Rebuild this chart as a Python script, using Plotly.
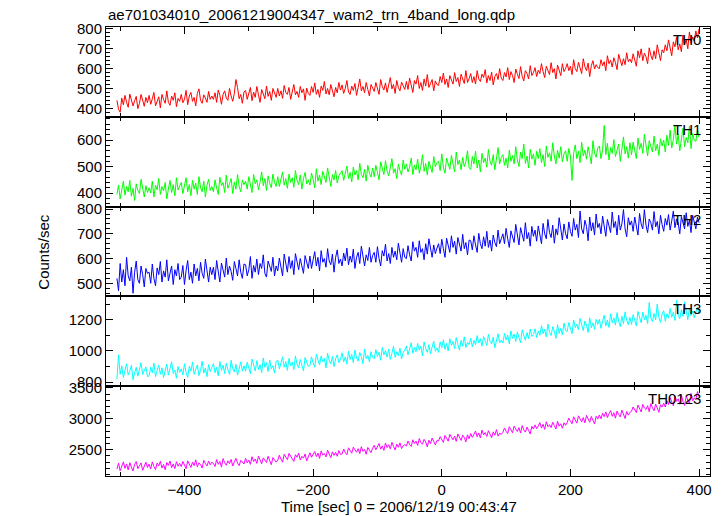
import plotly.graph_objects as go
from plotly.subplots import make_subplots

# time bins (sec), 2.5-s spacing from -505 to 400
time_sec = [-505 + 2.5 * i for i in range(363)]

th0 = [
    440, 395, 380, 452, 418, 465, 430, 405, 472, 445, 412, 438, 460, 398, 425, 470, 435, 410, 455, 428,
    465, 420, 448, 480, 412, 437, 458, 402, 470, 445, 425, 488, 430, 415, 462, 440, 478, 408, 450, 435,
    470, 428, 445, 490, 418, 462, 480, 435, 455, 412, 475, 498, 440, 425, 468, 452, 430, 485, 445, 462,
    445, 478, 430, 492, 465, 420, 470, 488, 452, 440, 500, 462, 435, 475, 545, 505, 448, 470, 425, 482,
    490, 445, 470, 505, 438, 482, 455, 510, 468, 430, 495, 475, 448, 512, 460, 485, 440, 500, 472, 455,
    500, 462, 488, 450, 515, 480, 470, 505, 445, 492, 520, 468, 485, 455, 510, 478, 498, 440, 502, 475,
    465, 510, 480, 528, 470, 495, 455, 512, 490, 535, 472, 500, 468, 520, 485, 458, 505, 478, 530, 492,
    518, 475, 500, 540, 482, 470, 512, 490, 525, 465, 505, 548, 488, 510, 478, 530, 495, 462, 520, 500,
    485, 530, 505, 470, 545, 510, 492, 528, 480, 515, 555, 498, 520, 475, 540, 505, 488, 532, 510, 495,
    535, 495, 552, 515, 480, 540, 522, 565, 500, 530, 490, 548, 512, 570, 505, 525, 545, 488, 538, 520,
    515, 560, 530, 578, 520, 548, 505, 565, 540, 522, 580, 535, 555, 510, 572, 545, 525, 590, 530, 550,
    575, 530, 560, 522, 590, 548, 535, 572, 555, 595, 528, 565, 540, 582, 518, 560, 575, 545, 600, 552,
    540, 580, 558, 605, 545, 585, 565, 530, 598, 572, 550, 610, 562, 538, 590, 575, 548, 615, 565, 580,
    605, 560, 592, 575, 625, 585, 555, 612, 595, 570, 630, 580, 600, 548, 618, 590, 565, 625, 585, 600,
    625, 590, 612, 570, 645, 600, 585, 632, 605, 575, 650, 610, 590, 628, 560, 615, 640, 598, 620, 605,
    600, 645, 615, 635, 590, 665, 625, 642, 608, 655, 630, 595, 672, 640, 615, 650, 620, 680, 635, 648,
    630, 675, 645, 612, 690, 655, 700, 640, 678, 660, 625, 705, 668, 645, 690, 650, 720, 672, 640, 695,
    680, 720, 690, 745, 700, 665, 735, 710, 760, 695, 725, 685, 770, 720, 745, 700, 785, 730, 760, 740,
    790, 755, 800,
]

th1 = [
    395, 430, 378, 415, 445, 392, 425, 405, 448, 388, 418, 372, 435, 410, 398, 452, 420, 385, 428, 402,
    420, 400, 445, 385, 430, 412, 455, 395, 425, 408, 440, 378, 415, 448, 402, 432, 390, 458, 412, 425,
    440, 398, 428, 458, 405, 432, 390, 448, 415, 438, 395, 462, 420, 405, 445, 385, 430, 452, 410, 425,
    405, 450, 420, 395, 460, 428, 440, 402, 468, 418, 435, 455, 398, 442, 415, 470, 425, 405, 450, 432,
    445, 415, 462, 425, 402, 470, 435, 450, 412, 442, 480, 428, 455, 410, 465, 438, 420, 472, 440, 425,
    462, 425, 450, 480, 430, 455, 418, 472, 440, 458, 422, 485, 448, 432, 468, 415, 455, 478, 435, 450,
    430, 475, 452, 420, 492, 445, 468, 432, 482, 455, 440, 495, 462, 425, 470, 450, 485, 438, 465, 478,
    485, 448, 472, 502, 455, 478, 442, 498, 468, 485, 450, 512, 470, 458, 490, 445, 505, 475, 460, 495,
    462, 505, 478, 450, 518, 488, 470, 522, 482, 465, 500, 530, 475, 492, 455, 510, 485, 468, 525, 490,
    510, 480, 498, 532, 470, 505, 488, 528, 475, 500, 545, 482, 512, 468, 520, 495, 478, 538, 500, 515,
    520, 485, 548, 498, 475, 532, 505, 490, 542, 512, 480, 555, 508, 525, 488, 535, 500, 518, 560, 495,
    490, 538, 510, 558, 495, 525, 480, 550, 515, 532, 498, 565, 520, 505, 545, 488, 528, 572, 510, 535,
    545, 505, 532, 495, 562, 520, 542, 510, 575, 525, 500, 555, 530, 585, 512, 540, 495, 565, 528, 548,
    505, 558, 530, 568, 515, 545, 500, 578, 535, 552, 520, 590, 540, 510, 562, 532, 575, 518, 548, 560,
    520, 568, 540, 448, 550, 582, 530, 558, 515, 592, 540, 562, 528, 575, 545, 510, 598, 552, 535, 570,
    578, 530, 562, 655, 545, 588, 525, 572, 550, 602, 538, 568, 585, 520, 560, 612, 548, 575, 532, 590,
    545, 592, 560, 530, 608, 565, 588, 550, 622, 570, 540, 598, 575, 555, 615, 560, 585, 542, 605, 578,
    600, 555, 618, 580, 638, 570, 602, 658, 585, 622, 560, 595, 645, 575, 610, 590, 652, 568, 625, 600,
    595, 640, 610,
]

th2 = [
    520, 470, 580, 505, 555, 490, 605, 530, 510, 565, 460, 545, 590, 515, 500, 570, 535, 485, 560, 540,
    545, 500, 578, 520, 490, 562, 535, 588, 505, 550, 525, 595, 510, 545, 570, 495, 555, 530, 580, 515,
    525, 572, 495, 552, 592, 515, 545, 500, 578, 530, 560, 510, 585, 540, 520, 598, 548, 505, 565, 535,
    565, 515, 592, 540, 505, 582, 555, 525, 602, 535, 570, 548, 512, 588, 560, 530, 595, 545, 520, 578,
    575, 530, 555, 608, 520, 572, 545, 598, 535, 580, 560, 615, 540, 525, 590, 565, 548, 605, 530, 570,
    550, 602, 565, 530, 618, 575, 545, 608, 560, 592, 535, 620, 580, 555, 600, 570, 540, 612, 585, 560,
    610, 560, 595, 628, 570, 605, 550, 632, 585, 600, 565, 640, 590, 575, 618, 545, 605, 635, 580, 598,
    570, 622, 590, 642, 575, 610, 585, 638, 560, 605, 625, 580, 650, 598, 570, 615, 592, 645, 585, 612,
    625, 585, 648, 600, 570, 632, 610, 658, 590, 620, 580, 645, 605, 630, 595, 662, 612, 585, 640, 605,
    600, 652, 615, 590, 668, 630, 645, 605, 672, 625, 640, 595, 660, 618, 680, 632, 605, 655, 620, 642,
    660, 620, 678, 640, 605, 682, 650, 625, 692, 645, 670, 618, 685, 655, 630, 698, 640, 665, 615, 675,
    672, 635, 692, 655, 625, 702, 660, 640, 688, 650, 710, 645, 675, 630, 695, 665, 648, 715, 660, 680,
    700, 660, 722, 680, 645, 712, 690, 665, 738, 685, 655, 725, 695, 670, 745, 680, 705, 650, 730, 690,
    715, 670, 732, 695, 660, 742, 700, 680, 758, 705, 685, 735, 662, 720, 695, 765, 710, 675, 740, 700,
    680, 748, 710, 690, 762, 715, 738, 685, 792, 720, 700, 755, 730, 672, 768, 712, 745, 695, 780, 725,
    742, 700, 772, 720, 690, 758, 730, 705, 788, 725, 750, 695, 775, 715, 740, 798, 720, 688, 765, 735,
    752, 710, 768, 730, 695, 782, 740, 720, 798, 735, 705, 760, 745, 715, 790, 728, 750, 700, 775, 738,
    710, 762, 735, 778, 715, 752, 792, 725, 760, 745, 700, 770, 740, 720, 785, 730, 755, 705, 775, 740,
    720, 768, 745,
]

th3 = [
    820, 975, 850, 905, 830, 882, 918, 845, 870, 908, 815, 860, 895, 838, 880, 925, 850, 872, 898, 835,
    840, 895, 860, 922, 835, 875, 908, 850, 892, 830, 868, 915, 845, 885, 930, 855, 878, 825, 900, 862,
    885, 845, 918, 860, 830, 902, 870, 928, 850, 882, 910, 842, 875, 935, 858, 890, 835, 912, 868, 895,
    918, 860, 895, 840, 932, 875, 908, 855, 922, 880, 850, 940, 888, 865, 915, 845, 898, 930, 870, 905,
    870, 928, 890, 855, 948, 900, 872, 938, 880, 912, 860, 955, 895, 925, 868, 942, 885, 905, 858, 930,
    942, 885, 922, 962, 895, 932, 875, 952, 905, 928, 880, 968, 915, 890, 945, 912, 872, 958, 920, 900,
    905, 962, 925, 895, 978, 935, 910, 968, 930, 952, 890, 985, 940, 918, 965, 900, 950, 975, 925, 945,
    988, 930, 962, 915, 998, 945, 978, 925, 1005, 955, 935, 990, 962, 918, 1012, 950, 972, 930, 995, 958,
    950, 1008, 965, 992, 940, 1022, 975, 1002, 960, 1012, 945, 985, 1030, 958, 995, 970, 1018, 948, 990, 1005,
    1032, 975, 1012, 1052, 985, 1022, 995, 1048, 1005, 1030, 968, 1058, 1015, 990, 1040, 980, 1025, 1062, 998, 1020,
    990, 1058, 1020, 1072, 1010, 1048, 1000, 1078, 1035, 1062, 1015, 1085, 1042, 1005, 1068, 1030, 1090, 1022, 1055, 1040,
    1082, 1025, 1068, 1040, 1098, 1050, 1078, 1030, 1092, 1060, 1035, 1105, 1062, 1045, 1088, 1020, 1075, 1110, 1052, 1070,
    1050, 1112, 1070, 1102, 1045, 1128, 1080, 1108, 1060, 1122, 1085, 1052, 1135, 1095, 1068, 1118, 1078, 1140, 1092, 1105,
    1142, 1085, 1128, 1100, 1162, 1110, 1138, 1090, 1172, 1120, 1098, 1155, 1125, 1080, 1168, 1112, 1145, 1102, 1178, 1130,
    1125, 1182, 1140, 1110, 1198, 1150, 1172, 1135, 1208, 1160, 1130, 1192, 1165, 1118, 1212, 1148, 1180, 1138, 1202, 1170,
    1202, 1145, 1188, 1228, 1160, 1198, 1150, 1238, 1180, 1212, 1165, 1245, 1190, 1155, 1222, 1175, 1250, 1195, 1168, 1215,
    1170, 1232, 1195, 1160, 1252, 1205, 1180, 1248, 1200, 1228, 1175, 1310, 1210, 1188, 1240, 1198, 1300, 1215, 1182, 1235,
    1258, 1190, 1238, 1210, 1272, 1215, 1248, 1195, 1325, 1230, 1205, 1265, 1222, 1315, 1240, 1200, 1275, 1225, 1255, 1212,
    1248, 1280, 1235,
]

th0123 = [
    2190, 2285, 2160, 2250, 2305, 2200, 2272, 2175, 2292, 2220, 2158, 2265, 2310, 2195, 2240, 2288, 2170, 2255, 2300, 2215,
    2268, 2190, 2305, 2230, 2180, 2288, 2240, 2315, 2205, 2262, 2178, 2295, 2248, 2320, 2210, 2272, 2195, 2308, 2235, 2280,
    2230, 2312, 2255, 2195, 2322, 2270, 2215, 2302, 2245, 2338, 2225, 2290, 2262, 2205, 2330, 2278, 2240, 2318, 2258, 2300,
    2280, 2230, 2342, 2265, 2312, 2220, 2358, 2290, 2250, 2322, 2275, 2345, 2238, 2305, 2362, 2285, 2245, 2330, 2298, 2270,
    2362, 2290, 2332, 2265, 2388, 2310, 2352, 2280, 2398, 2322, 2275, 2370, 2340, 2295, 2395, 2318, 2260, 2375, 2345, 2300,
    2332, 2412, 2350, 2300, 2428, 2372, 2340, 2442, 2388, 2355, 2312, 2420, 2380, 2448, 2335, 2395, 2365, 2432, 2320, 2405,
    2452, 2380, 2428, 2472, 2390, 2448, 2360, 2482, 2415, 2440, 2385, 2495, 2430, 2372, 2468, 2410, 2458, 2395, 2488, 2425,
    2432, 2512, 2455, 2420, 2532, 2480, 2445, 2542, 2492, 2460, 2518, 2438, 2550, 2475, 2505, 2428, 2538, 2485, 2452, 2525,
    2572, 2500, 2548, 2602, 2510, 2562, 2490, 2608, 2535, 2582, 2515, 2620, 2555, 2498, 2592, 2540, 2612, 2520, 2565, 2585,
    2562, 2642, 2585, 2555, 2662, 2602, 2638, 2570, 2682, 2615, 2590, 2668, 2625, 2548, 2655, 2598, 2690, 2630, 2578, 2650,
    2642, 2712, 2655, 2620, 2732, 2680, 2640, 2748, 2692, 2660, 2722, 2635, 2755, 2688, 2650, 2738, 2700, 2628, 2742, 2678,
    2762, 2700, 2745, 2802, 2710, 2772, 2690, 2818, 2740, 2778, 2715, 2808, 2752, 2695, 2790, 2735, 2825, 2720, 2768, 2748,
    2782, 2852, 2800, 2760, 2872, 2815, 2775, 2882, 2832, 2795, 2858, 2770, 2890, 2820, 2785, 2868, 2810, 2755, 2878, 2835,
    2902, 2840, 2885, 2938, 2850, 2912, 2830, 2952, 2872, 2905, 2858, 2945, 2890, 2835, 2960, 2880, 2920, 2848, 2935, 2895,
    2940, 3012, 2962, 2920, 3032, 2975, 2930, 3048, 2985, 2950, 3020, 2935, 3055, 2990, 2945, 3038, 2968, 2915, 3042, 2995,
    3062, 3000, 3092, 3035, 3112, 3020, 3082, 3132, 3040, 3098, 3010, 3125, 3068, 3030, 3140, 3075, 3005, 3118, 3058, 3102,
    3122, 3192, 3140, 3100, 3222, 3162, 3110, 3232, 3175, 3150, 3210, 3115, 3245, 3180, 3130, 3238, 3165, 3105, 3228, 3190,
    3252, 3190, 3292, 3230, 3342, 3262, 3210, 3372, 3282, 3322, 3235, 3390, 3275, 3215, 3365, 3300, 3245, 3410, 3290, 3340,
    3305, 3440, 3360,
]

series_names = ["TH0", "TH1", "TH2", "TH3", "TH0123"]
series_values = [th0, th1, th2, th3, th0123]
series_colors = ["#ff0000", "#00ff00", "#0000ff", "#00ffff", "#ff00ff"]
y_ranges = [[357, 810], [349, 688], [447, 810], [774, 1349], [2077, 3526]]
y_dticks = [100, 100, 100, 200, 500]
y_minor = [20, 20, 20, 100, 100]

title_text = "ae701034010_20061219004347_wam2_trn_4band_long.qdp"
x_title = "Time [sec] 0 = 2006/12/19 00:43:47"
y_title = "Counts/sec"

FONT = "Liberation Sans, Arial, Helvetica, sans-serif"

fig = make_subplots(rows=5, cols=1, shared_xaxes=True, vertical_spacing=0)

for i, (name, vals, col) in enumerate(zip(series_names, series_values, series_colors)):
    fig.add_trace(
        go.Scatter(x=time_sec[:len(vals)], y=vals, mode="lines", line=dict(color=col, width=1),
                   name=name, showlegend=False),
        row=i + 1, col=1,
    )
    fig.update_yaxes(
        range=y_ranges[i], dtick=y_dticks[i], tick0=0,
        ticks="inside", ticklen=7, tickwidth=1, tickcolor="black",
        minor=dict(dtick=y_minor[i], ticks="inside", ticklen=4, tickcolor="black"),
        showline=True, linecolor="black", linewidth=1, mirror="allticks",
        showgrid=False, zeroline=False,
        tickfont=dict(family=FONT, size=15, color="black"),
        row=i + 1, col=1,
    )
    fig.update_xaxes(
        range=[-522, 417], dtick=200, tick0=0,
        ticks="inside", ticklen=7, tickwidth=1, tickcolor="black",
        minor=dict(dtick=100, ticks="inside", ticklen=4, tickcolor="black"),
        showline=True, linecolor="black", linewidth=1, mirror="allticks",
        showgrid=False, zeroline=False,
        tickfont=dict(family=FONT, size=15, color="black"),
        row=i + 1, col=1,
    )
    dom_top = 1 - i * 0.2
    fig.add_annotation(
        text=name, xref="paper", yref="paper", x=0.988, y=dom_top,
        xanchor="right", yanchor="top", yshift=-2, showarrow=False,
        font=dict(family=FONT, size=15, color="black"),
    )

fig.add_annotation(text=title_text, xref="paper", yref="paper", x=0, y=1.0278,
                   xanchor="left", yanchor="middle", showarrow=False,
                   font=dict(family=FONT, size=15, color="black"))
fig.add_annotation(text=x_title, xref="paper", yref="paper", x=0.485, y=-0.069,
                   xanchor="center", yanchor="middle", showarrow=False,
                   font=dict(family=FONT, size=15, color="black"))
fig.add_annotation(text=y_title, xref="paper", yref="paper", x=-0.104, y=0.5,
                   xanchor="center", yanchor="middle", textangle=-90, showarrow=False,
                   font=dict(family=FONT, size=15, color="black"))

# the page adds an 8 px body margin, so the figure is 8 px smaller on each axis
fig.update_layout(
    width=716, height=508,
    margin=dict(l=98, r=12, t=19, b=40),
    paper_bgcolor="white", plot_bgcolor="white",
    showlegend=False,
)

fig.write_html("out.html")
